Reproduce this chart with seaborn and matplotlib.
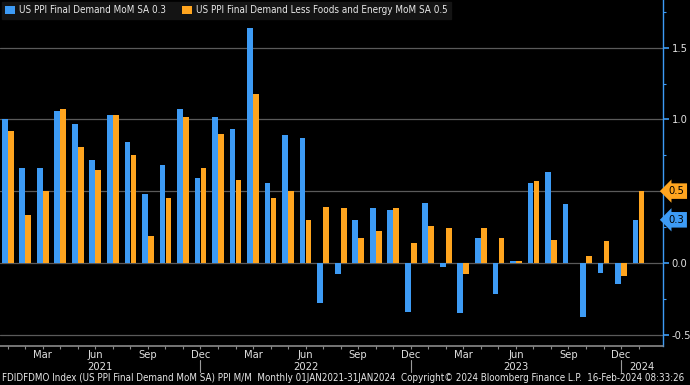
import numpy as np
import pandas as pd
import seaborn as sns
from matplotlib import pyplot as plt
from matplotlib import transforms
from matplotlib import font_manager as fm

# monthly PPI data, Jan 2021 - Jan 2024
months = pd.date_range('2021-01-01', '2024-01-01', freq='MS')
ppi_final = [1.00, 0.66, 0.66, 1.06, 0.97, 0.72, 1.03, 0.84, 0.48, 0.68,
             1.07, 0.59, 1.02, 0.93, 1.64, 0.56, 0.89, 0.87, -0.28, -0.08,
             0.30, 0.38, 0.37, -0.34, 0.42, -0.03, -0.35, 0.17, -0.22, 0.01,
             0.56, 0.63, 0.41, -0.38, -0.07, -0.15, 0.30]
ppi_core = [0.92, 0.33, 0.50, 1.07, 0.81, 0.65, 1.03, 0.75, 0.19, 0.45,
            1.02, 0.66, 0.90, 0.58, 1.18, 0.45, 0.50, 0.30, 0.39, 0.38,
            0.17, 0.22, 0.38, 0.14, 0.26, 0.24, -0.08, 0.24, 0.17, 0.01,
            0.57, 0.16, 0.00, 0.05, 0.15, -0.09, 0.50]
series_names = ['US PPI Final Demand MoM SA 0.3',
                'US PPI Final Demand Less Foods and Energy MoM SA 0.5']
colors = ['#3d9bf5', '#ffa51f']
tick_months = ['Mar', 'Jun', 'Sep', 'Dec']

df = pd.DataFrame({
    'idx': list(range(len(months))) * 2,
    'value': ppi_final + ppi_core,
    'series': [series_names[0]] * len(months) + [series_names[1]] * len(months),
})

sns.set_theme(style='dark')

# look for a narrow font, Bloomberg text is condensed
narrow = [f for f in fm.fontManager.ttflist
          if ('Narrow' in f.name or 'Condensed' in f.name
              or f.stretch in ('condensed', 'semi-condensed'))
          and 'Bold' not in f.style and f.weight in (400, 'normal', 'regular')
          and f.style == 'normal']
if narrow:
    plt.rcParams['font.family'] = [narrow[0].name, 'DejaVu Sans']
    plt.rcParams['font.stretch'] = narrow[0].stretch
    fs, fs_leg, fs_foot = 8, 7.1, 7.0
else:
    plt.rcParams['font.family'] = ['DejaVu Sans']
    fs, fs_leg, fs_foot = 7, 6.2, 6.2

fig = plt.figure(figsize=(6.9, 3.85), dpi=100, facecolor='black')
ax = fig.add_axes([0.0, 0.101, 0.961, 0.899])
ax.set_facecolor('black')

sns.barplot(data=df, x='idx', y='value', hue='series', palette=colors,
            width=0.685, gap=0.05, saturation=1, legend=False, ax=ax,
            edgecolor='none', zorder=3)

ax.set_xlim(-0.44, 37.4)
ax.set_ylim(-0.581, 1.833)

# grid lines
for yv in [-0.5, 0.0, 0.5, 1.0, 1.5]:
    ax.axhline(yv, color='#5a5a5a', lw=0.9, zorder=1)
ax.grid(False)

# right axis
for s in ['left', 'top', 'bottom']:
    ax.spines[s].set_visible(False)
ax.spines['right'].set_color('#3d9bf5')
ax.spines['right'].set_linewidth(1.0)
ax.yaxis.tick_right()
ax.set_yticks([-0.5, 0.0, 0.5, 1.0, 1.5])
ax.set_yticklabels(['-0.5', '0.0', '', '1.0', '1.5'])
ax.set_yticks([-0.25, 0.25, 0.75, 1.25, 1.75], minor=True)
ax.tick_params(axis='y', which='major', colors='#3d9bf5', labelcolor='#e0e0e0',
               length=4, width=1.2, labelsize=fs, pad=2, right=True)
ax.tick_params(axis='y', which='minor', colors='#3d9bf5', length=2, width=0.8, right=True)

# bottom axis line and month ticks
ax.axhline(-0.581, color='#8a8a8a', lw=1.2, clip_on=False, zorder=4)
ax.set_xticks(range(len(months)))
ax.set_xticklabels([m.strftime('%b') if m.strftime('%b') in tick_months else ''
                    for m in months])
ax.tick_params(axis='x', colors='#8a8a8a', labelcolor='#e0e0e0', length=2,
               width=0.8, labelsize=fs, pad=1, bottom=True)
ax.set_xlabel('')
ax.set_ylabel('')

# year labels and separators
trans = transforms.blended_transform_factory(ax.transData, fig.transFigure)
seps = [i for i, m in enumerate(months) if m.month == 12]
bounds = [-0.44] + seps + [37.4]
years = sorted(set(m.year for m in months))
for yr, a, b in zip(years, bounds[:-1], bounds[1:]):
    fig.text((a + b) / 2, 0.048, str(yr), transform=trans, ha='center',
             va='center', color='#e0e0e0', fontsize=fs)
for s in seps:
    fig.add_artist(plt.Line2D([s, s], [0.034, 0.066], transform=trans,
                              color='#9a9a9a', lw=0.8))

# value tags on the right
ytrans = transforms.blended_transform_factory(ax.transAxes, ax.transData)
for val, col in [(ppi_core[-1], colors[1]), (ppi_final[-1], colors[0])]:
    ax.text(1.008, val, f'{val:.1f}', transform=ytrans, ha='left', va='center',
            fontsize=fs, color='black', zorder=6, clip_on=False,
            bbox=dict(boxstyle='larrow,pad=0.25', fc=col, ec='none'))

# legend box
handles = [plt.Rectangle((0, 0), 1, 1, fc=c, ec='none') for c in colors]
leg = ax.legend(handles, series_names, loc='upper left', ncol=2,
                bbox_to_anchor=(0.0, 1.0), fontsize=fs_leg, frameon=True,
                facecolor='#141414', edgecolor='#141414', framealpha=1,
                handlelength=1.0, handleheight=1.0, handletextpad=0.4,
                columnspacing=1.6, borderpad=0.35, borderaxespad=0.2)
for t in leg.get_texts():
    t.set_color('#e8e8e8')
leg.get_frame().set_boxstyle('square', pad=0)
leg.set_zorder(10)

# footer
fig.text(0.003, 0.018, 'FDIDFDMO Index (US PPI Final Demand MoM SA) PPI M/M  '
         'Monthly 01JAN2021-31JAN2024  Copyright\u00a9 2024 Bloomberg Finance L.P.  '
         '16-Feb-2024 08:33:26', ha='left', va='center', color='#e8e8e8',
         fontsize=fs_foot)

fig.savefig('out.png', dpi=100, facecolor='black')
